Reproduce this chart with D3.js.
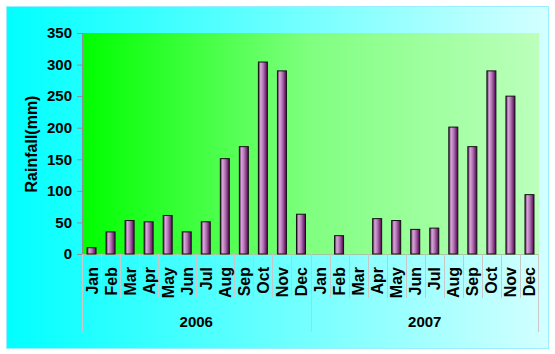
<!DOCTYPE html>
<html>
<head>
<meta charset="utf-8">
<script src="https://cdn.jsdelivr.net/npm/d3@7"></script>
<style>
  body { margin: 0; background: #fff; }
  svg text { font-family: "Liberation Sans", Arial, sans-serif; font-weight: bold; fill: #000; }
</style>
</head>
<body>
<div id="chart"></div>
<script>
const years = ['2006', '2007'];
const months = ['Jan', 'Feb', 'Mar', 'Apr', 'May', 'Jun', 'Jul', 'Aug', 'Sep', 'Oct', 'Nov', 'Dec'];
const rainfall2006 = [10, 35, 53, 51, 61, 35, 51, 151, 170, 304, 290, 63];
const rainfall2007 = [0, 29, 0, 56, 53, 39, 41, 201, 170, 290, 250, 94];
const yTicks = [0, 50, 100, 150, 200, 250, 300, 350];

const data = [];
years.forEach((yr, yi) => {
    const vals = yi === 0 ? rainfall2006 : rainfall2007;
    months.forEach((m, i) => data.push({ key: yr + '-' + m, month: m, year: yr, value: vals[i] }));
});

const W = 555, H = 354;
const margin = { top: 33, right: 16, bottom: 100, left: 82 };
const width = 539 - margin.left;
const height = 254 - margin.top;

const svg = d3.select('#chart')
    .append('svg')
    .attr('width', W)
    .attr('height', H);

const defs = svg.append('defs');

const bgGrad = defs.append('linearGradient').attr('id', 'bg');
bgGrad.append('stop').attr('offset', '0%').attr('stop-color', '#00ffff');
bgGrad.append('stop').attr('offset', '100%').attr('stop-color', '#d4ffff');

const plotGrad = defs.append('linearGradient').attr('id', 'plotbg');
plotGrad.append('stop').attr('offset', '0%').attr('stop-color', '#00ff00');
plotGrad.append('stop').attr('offset', '50%').attr('stop-color', '#80ff80');
plotGrad.append('stop').attr('offset', '100%').attr('stop-color', '#bcffbc');

const barGrad = defs.append('linearGradient').attr('id', 'bar');
barGrad.append('stop').attr('offset', '0%').attr('stop-color', '#5a165a');
barGrad.append('stop').attr('offset', '25%').attr('stop-color', '#d8a8d8');
barGrad.append('stop').attr('offset', '55%').attr('stop-color', '#b070b0');
barGrad.append('stop').attr('offset', '100%').attr('stop-color', '#500050');

// outer chart area
svg.append('rect')
    .attr('x', 6.5).attr('y', 6.5)
    .attr('width', 542).attr('height', 342)
    .attr('fill', 'url(#bg)')
    .attr('stroke', '#99eeff');

const g = svg.append('g')
    .attr('transform', `translate(${margin.left},${margin.top})`);

g.append('rect')
    .attr('width', width)
    .attr('height', height)
    .attr('fill', 'url(#plotbg)');

const x = d3.scaleBand()
    .domain(data.map(d => d.key))
    .range([0, width]);

const y = d3.scaleLinear()
    .domain([0, 350])
    .range([height, 0]);

// y axis
const yAxis = g.append('g')
    .call(d3.axisLeft(y).tickValues(yTicks).tickSize(5).tickPadding(5));
yAxis.select('.domain').attr('stroke', '#909090');
yAxis.selectAll('.tick line').attr('stroke', '#909090');
yAxis.selectAll('.tick text').style('font-size', '15px');

// x axis baseline
g.append('line')
    .attr('x1', 0).attr('x2', width)
    .attr('y1', height + 0.5).attr('y2', height + 0.5)
    .attr('stroke', '#a0c8a0');

// month separators
const xAxis = g.append('g').attr('transform', `translate(0,${height})`);
xAxis.selectAll('line.sep')
    .data(data)
    .join('line')
    .attr('class', 'sep')
    .attr('x1', d => Math.round(x(d.key)) + 0.5)
    .attr('x2', d => Math.round(x(d.key)) + 0.5)
    .attr('y1', 0)
    .attr('y2', (d, i) => i % 12 === 0 ? 78 : 44)
    .attr('stroke', '#c8c8c8');
xAxis.append('line')
    .attr('x1', width - 0.5).attr('x2', width - 0.5)
    .attr('y1', 0).attr('y2', 78)
    .attr('stroke', '#c8c8c8');

xAxis.selectAll('text.month')
    .data(data)
    .join('text')
    .attr('class', 'month')
    .attr('transform', d => `translate(${x(d.key) + x.bandwidth() / 2 + 6},13) rotate(-90)`)
    .attr('text-anchor', 'end')
    .style('font-size', '16px')
    .text(d => d.month);

xAxis.selectAll('text.year')
    .data(years)
    .join('text')
    .attr('class', 'year')
    .attr('x', (d, i) => {
        const first = x(d + '-Jan');
        const last = x(d + '-Dec') + x.bandwidth();
        return (first + last) / 2;
    })
    .attr('y', 73)
    .attr('text-anchor', 'middle')
    .style('font-size', '15px')
    .text(d => d);

// bars
const barW = 9;
g.selectAll('rect.bar')
    .data(data.filter(d => d.value > 0))
    .join('rect')
    .attr('class', 'bar')
    .attr('x', d => x(d.key) + (x.bandwidth() - barW) / 2)
    .attr('y', d => y(d.value))
    .attr('width', barW)
    .attr('height', d => height - y(d.value))
    .attr('fill', 'url(#bar)')
    .attr('stroke', '#111')
    .attr('stroke-width', 1);

// y title
svg.append('text')
    .attr('transform', `translate(37,144) rotate(-90)`)
    .attr('text-anchor', 'middle')
    .style('font-size', '16px')
    .text('Rainfall(mm)');
</script>
</body>
</html>
